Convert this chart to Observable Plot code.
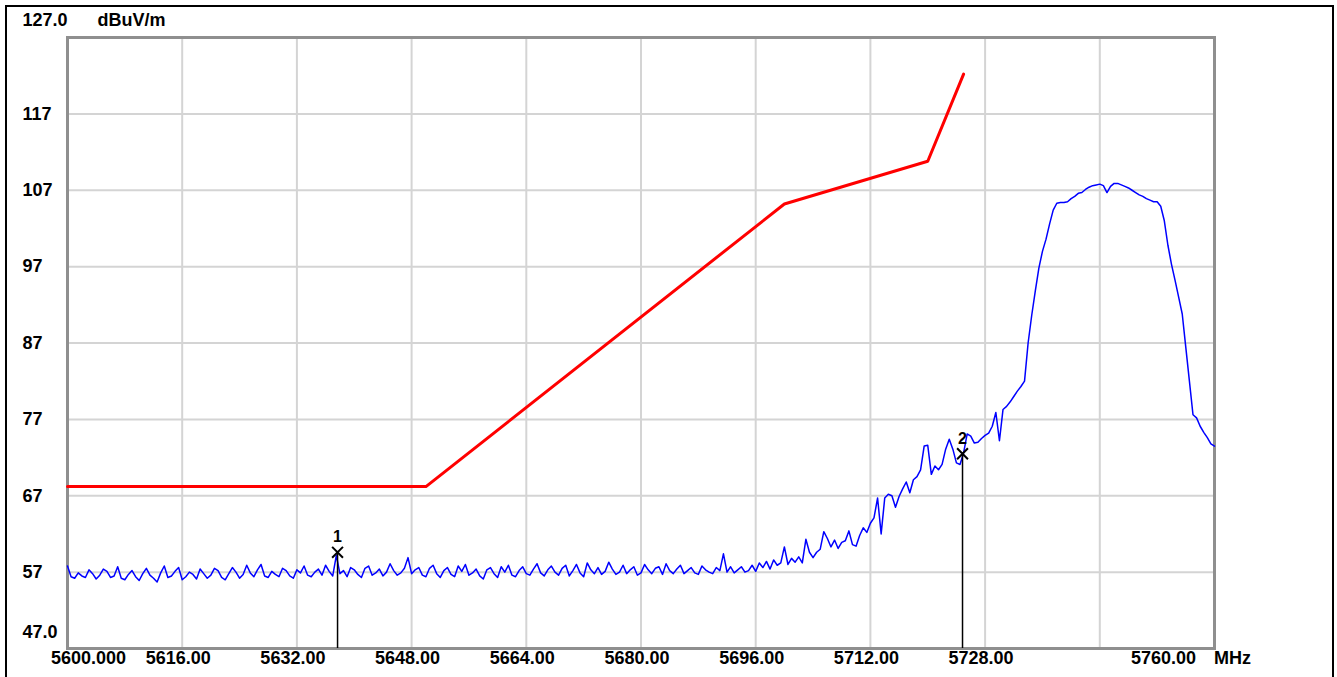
<!DOCTYPE html>
<html>
<head>
<meta charset="utf-8">
<script src="https://cdn.jsdelivr.net/npm/d3@7"></script>
<script src="https://cdn.jsdelivr.net/npm/@observablehq/plot@0.6"></script>
<style>
  html, body { margin: 0; padding: 0; background: #ffffff; overflow: hidden; }
  #wrap { position: relative; width: 1337px; height: 677px; }
  #border { position: absolute; left: 5px; top: 5px; width: 1325px; height: 700px; border: 2px solid #000; box-sizing: content-box; pointer-events: none; }
  #chart { position: absolute; left: 0; top: 0; }
</style>
</head>
<body>
<div id="wrap"><div id="chart"></div><div id="border"></div></div>
<script>
// ---- data ----
const traceStart = 5600;      // MHz, first sweep point
const traceStep = 0.5;        // MHz between sweep points
const traceLevel = [
  57.8, 56.4, 56.2, 56.9, 56.5, 56.3, 57.3, 56.8, 56.1, 56.6,
  57.4, 57.1, 56.3, 56.5, 57.7, 56.2, 56.0, 56.7, 57.2, 56.4,
  55.9, 56.8, 57.5, 56.6, 56.2, 55.7, 56.9, 57.8, 56.3, 56.5,
  57.1, 57.6, 56.0, 56.4, 57.0, 56.7, 56.1, 57.4, 56.8, 56.2,
  56.6, 57.5, 57.2, 56.3, 56.0, 56.8, 57.6, 57.0, 56.2, 56.7,
  57.9, 56.9, 56.4, 57.3, 58.0, 56.5, 56.3, 57.1, 56.7, 56.4,
  57.5, 57.2, 56.5, 56.2, 57.3, 56.9, 57.8, 56.6, 56.4, 57.0,
  57.4, 56.6, 57.9, 57.1, 56.5, 59.2, 56.8, 57.2, 56.4, 57.6,
  57.3, 56.7, 56.3, 57.5, 57.8, 56.6, 56.9, 57.4, 56.5, 57.0,
  58.1, 57.2, 56.6, 56.9, 57.5, 58.9, 56.8, 57.3, 57.6, 56.6,
  56.4, 57.5, 57.9, 56.8, 56.3, 57.2, 57.6, 56.7, 56.4, 57.8,
  57.1, 58.0, 56.6, 56.9, 57.4, 56.5, 56.1, 57.3, 57.6, 56.8,
  56.3, 57.7, 57.0, 57.9, 56.6, 56.4, 57.2, 57.7, 56.8, 56.6,
  57.4, 58.1, 56.9, 56.5, 57.3, 57.8, 57.0, 56.6, 57.5, 57.9,
  56.5, 57.2, 58.0, 56.9, 56.4, 58.2, 57.3, 56.8, 57.6, 56.7,
  57.1, 58.3, 57.4, 56.7, 57.0, 57.9, 56.8, 57.3, 57.7, 56.6,
  56.9, 58.0, 57.3, 56.8, 57.5, 57.7, 56.7, 58.1, 57.2, 56.8,
  57.4, 57.9, 56.8, 57.2, 57.6, 56.9, 56.7, 57.8, 57.3, 57.0,
  56.8, 57.6, 57.2, 59.4, 57.0, 57.7, 56.9, 57.3, 57.7, 57.0,
  57.2, 57.9, 57.1, 58.2, 57.6, 58.4, 57.4, 58.6, 57.9, 58.2,
  60.3, 58.0, 58.8, 58.3, 59.0, 58.2, 61.3, 59.6, 58.9, 59.6,
  60.0, 62.3, 61.4, 60.3, 61.2, 60.1, 60.9, 61.1, 62.4, 60.6,
  60.4, 61.8, 62.8, 62.2, 63.4, 64.1, 66.7, 62.0, 66.7, 67.2,
  67.0, 65.5, 66.9, 67.9, 68.8, 67.4, 69.1, 69.5, 70.4, 73.5,
  73.6, 69.8, 70.9, 70.4, 71.1, 73.1, 74.4, 73.1, 71.3, 71.1,
  72.6, 75.1, 74.8, 73.9, 74.0, 74.5, 74.9, 75.2, 76.1, 77.9,
  74.2, 78.3, 78.7, 79.3, 80.0, 80.7, 81.3, 82.0, 87.0, 90.6,
  93.8, 96.8, 99.0, 100.6, 102.6, 104.4, 105.3, 105.4, 105.4, 105.5,
  105.9, 106.2, 106.6, 106.7, 107.1, 107.4, 107.6, 107.7, 107.8, 107.6,
  106.7, 107.5, 107.9, 107.9, 107.7, 107.5, 107.3, 107.0, 106.7, 106.4,
  106.2, 105.9, 105.7, 105.5, 105.5, 104.9, 103.0, 99.8, 97.3, 95.2,
  93.0, 90.8, 86.4, 82.0, 77.6, 77.2, 76.1, 75.3, 74.6, 73.8,
  73.5
];
const limitFreq = [5600, 5650, 5700, 5720, 5725];
const limitLevel = [68.2, 68.2, 105.2, 110.8, 122.2];
const markerFreq = [5637.67, 5724.85];
const markerLevel = [59.6, 72.5];
const markerName = ["1", "2"];
const xGridFreq = [5616, 5632, 5648, 5664, 5680, 5696, 5712, 5728, 5744];
const yGridLevel = [57, 67, 77, 87, 97, 107, 117];
const xTickFreq = [5616, 5632, 5648, 5664, 5680, 5696, 5712, 5728];
const xTickText = ["5616.00", "5632.00", "5648.00", "5664.00", "5680.00", "5696.00", "5712.00", "5728.00"];
const yTickLevel = [117, 107, 97, 87, 77, 67, 57];
const yTickText = ["117", "107", "97", "87", "77", "67", "57"];
const xDomain = [5600, 5760];
const yDomain = [47, 127];

// ---- tables ----
const trace = traceLevel.map((v, i) => ({f: traceStart + i * traceStep, v}));
const limit = limitFreq.map((f, i) => ({f, v: limitLevel[i]}));
const markers = markerFreq.map((f, i) => ({f, v: markerLevel[i], name: markerName[i]}));
const xTicks = xTickFreq.map((f, i) => ({f, t: xTickText[i]}));
const yTicks = yTickLevel.map((v, i) => ({v, t: yTickText[i]}));

const font = "Liberation Sans, Arial, sans-serif";
const txt = {fontFamily: font, fontWeight: "bold", fontSize: 18, fill: "#000"};

const chart = Plot.plot({
  width: 1337,
  height: 677,
  marginLeft: 67,
  marginRight: 123,
  marginTop: 37,
  marginBottom: 29,
  x: {domain: xDomain, axis: null},
  y: {domain: yDomain, axis: null},
  style: {background: "transparent", fontFamily: font},
  marks: [
    Plot.ruleX(xGridFreq, {stroke: "#d4d4d4", strokeWidth: 2}),
    Plot.ruleY(yGridLevel, {stroke: "#d4d4d4", strokeWidth: 2}),
    Plot.frame({stroke: "#8f8f8f", strokeWidth: 3}),
    Plot.line(limit, {x: "f", y: "v", stroke: "#ff0000", strokeWidth: 3}),
    Plot.line(trace, {x: "f", y: "v", stroke: "#0000ff", strokeWidth: 1.5}),
    Plot.ruleX(markers, {x: "f", y1: "v", y2: yDomain[0], stroke: "#000", strokeWidth: 1.5}),
    Plot.dot(markers, {x: "f", y: "v", symbol: "times", r: 5, stroke: "#000", strokeWidth: 2}),
    Plot.text(markers, {x: "f", y: "v", text: "name", dy: -15, ...txt, fontSize: 16}),
    // y tick labels
    Plot.text(yTicks, {y: "v", text: "t", frameAnchor: "left", dx: -45, textAnchor: "start", ...txt}),
    Plot.text(["127.0"], {y: yDomain[1], text: d => d, frameAnchor: "left", dx: -45, dy: -17, textAnchor: "start", ...txt}),
    Plot.text(["dBuV/m"], {y: yDomain[1], text: d => d, frameAnchor: "left", dx: 30, dy: -17, textAnchor: "start", ...txt}),
    Plot.text(["47.0"], {y: yDomain[0], text: d => d, frameAnchor: "left", dx: -45, dy: -16, textAnchor: "start", ...txt}),
    // x tick labels
    Plot.text(xTicks, {x: "f", text: "t", frameAnchor: "bottom", dy: 15, dx: -4, ...txt}),
    Plot.text(["5600.000"], {x: xDomain[0], text: d => d, frameAnchor: "bottom", dy: 15, dx: 21, ...txt}),
    Plot.text(["5760.00"], {x: xDomain[1], text: d => d, frameAnchor: "bottom", dy: 15, dx: -51, ...txt}),
    Plot.text(["MHz"], {x: xDomain[1], text: d => d, frameAnchor: "bottom", dy: 15, dx: 18, ...txt})
  ]
});
document.getElementById("chart").appendChild(chart);
</script>
</body>
</html>
